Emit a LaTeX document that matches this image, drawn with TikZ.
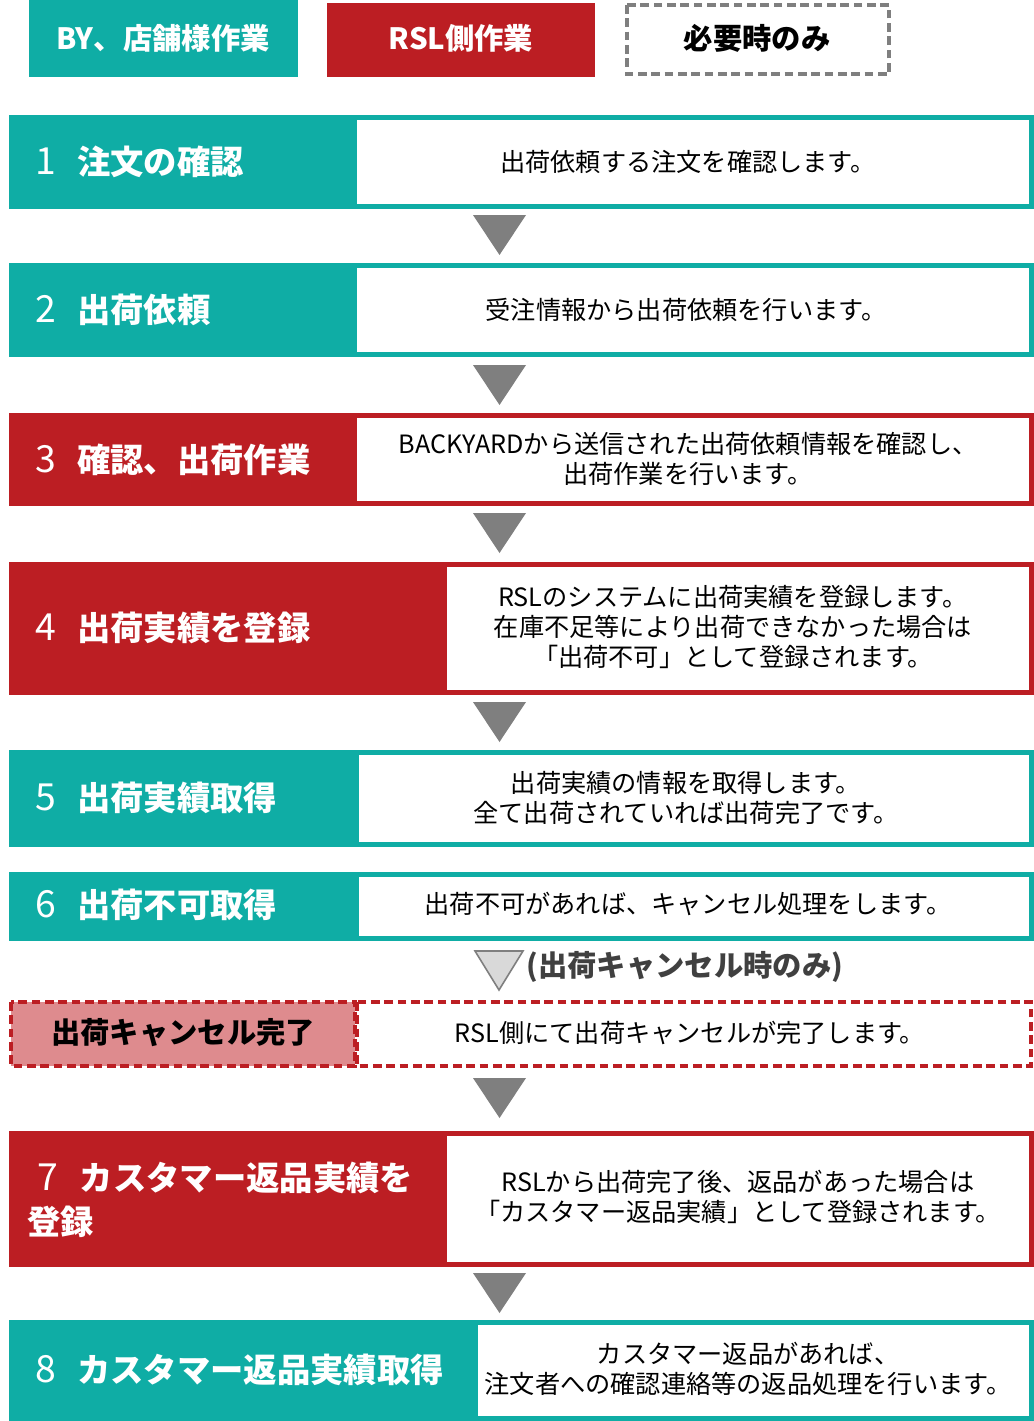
\documentclass[tikz,border=0pt]{standalone}
\usepackage{fontspec}
\setmainfont{Noto Sans CJK JP}
\usepackage{tikz}
\definecolor{byteal}{HTML}{0FADA5}
\definecolor{rslred}{HTML}{BC1E23}
\definecolor{cancelpink}{HTML}{DE8B8E}
\definecolor{arrowgray}{HTML}{7F7F7F}
\definecolor{notegray}{HTML}{404040}
\tikzset{x=0.75pt,y=-0.75pt}
\tikzset{
  steptitle/.style={anchor=west,text=white,inner sep=0pt,align=left,
    font=\fontsize{25pt}{33pt}\selectfont\bfseries},
  stepdesc/.style={inner sep=0pt,align=center,
    font=\fontsize{18.9pt}{22.5pt}\selectfont},
  legendtext/.style={inner sep=0pt,font=\fontsize{22pt}{25pt}\selectfont\bfseries},
  dashframe/.style={rslred,line width=3.5pt,dash pattern=on 6.5pt off 3.5pt},
}
\newcommand{\stepnum}[1]{{\fontsize{28pt}{30pt}\selectfont\mdseries #1}\hspace{16pt}}

\begin{document}
\begin{tikzpicture}
       \useasboundingbox (0,0) rectangle (1034,1421);
       % legend
       \fill[byteal] (29,0) rectangle (298,77);
       \fill[rslred] (327,3) rectangle (595,77);
       \draw[arrowgray,line width=3.5pt,dash pattern=on 6.5pt off 3.5pt] (627,5) rectangle (889,74);
       \node[legendtext,text=white] (lgby) at (163,38) {BY、店舗様作業};
       \node[legendtext,text=white] (lgrsl) at (461,38) {RSL側作業};
       \node[legendtext] (lgopt) at (757,38) {必要時のみ};
       % step frames
       \foreach \top/\bot/\split/\col in {115/209/357/byteal,263/357/357/byteal,413/506/357/rslred,
           562/695/447/rslred,750/847/359/byteal,872/941/359/byteal,1131/1267/447/rslred,1320/1421/478/byteal}
       {
         \fill[\col] (9,\top) rectangle (1034,\bot);
         \fill[white] (\split,\top+5) rectangle (1029,\bot-5);
       }
       % arrows
       \foreach \y in {215,365,513,702,1078,1273}
         \fill[arrowgray] (473,\y) -- (526,\y) -- (499.5,\y+40) -- cycle;
       \draw[arrowgray,fill=black!15,line width=1.2pt] (475,951) -- (523,951) -- (499,990) -- cycle;
       \node[anchor=west,inner sep=0pt,text=notegray,font=\fontsize{22pt}{24pt}\selectfont\bfseries]
         (note) at (526,967) {(出荷キャンセル時のみ)};
       % cancel row
       \fill[cancelpink] (11,1002) rectangle (355,1066);
       \draw[dashframe] (11,1002) rectangle (355,1066);
       \draw[dashframe] (357,1002) rectangle (1031,1066);
       \node[legendtext] (t9) at (183,1033) {出荷キャンセル完了};
       \node[stepdesc] (d9) at (690,1033) {RSL側にて出荷キャンセルが完了します。};
       % titles
       \node[steptitle] (t1) at (35,162) {\stepnum{1}注文の確認};
       \node[steptitle] (t2) at (35,310) {\stepnum{2}出荷依頼};
       \node[steptitle] (t3) at (35,460) {\stepnum{3}確認、出荷作業};
       \node[steptitle] (t4) at (35,628) {\stepnum{4}出荷実績を登録};
       \node[steptitle] (t5) at (35,798) {\stepnum{5}出荷実績取得};
       \node[steptitle] (t6) at (35,905) {\stepnum{6}出荷不可取得};
       \node[steptitle] (t7) at (27,1200) {\hspace*{8pt}\stepnum{7}カスタマー返品実績を\\登録};
       \node[steptitle] (t8) at (35,1370) {\stepnum{8}カスタマー返品実績取得};
       % descriptions
       \node[stepdesc] (d1) at (688,162) {出荷依頼する注文を確認します。};
       \node[stepdesc] (d2) at (686,310) {受注情報から出荷依頼を行います。};
       \node[stepdesc] (d3) at (688,459) {BACKYARDから送信された出荷依頼情報を確認し、\\出荷作業を行います。};
       \node[stepdesc] (d4) at (733,627) {RSLのシステムに出荷実績を登録します。\\在庫不足等により出荷できなかった場合は\\「出荷不可」として登録されます。};
       \node[stepdesc] (d5) at (686,798) {出荷実績の情報を取得します。\\全て出荷されていれば出荷完了です。};
       \node[stepdesc] (d6) at (688,904) {出荷不可があれば、キャンセル処理をします。};
       \node[stepdesc] (d7) at (738,1197) {RSLから出荷完了後、返品があった場合は\\「カスタマー返品実績」として登録されます。};
       \node[stepdesc] (d8) at (748,1369) {カスタマー返品があれば、\\注文者への確認連絡等の返品処理を行います。};
      \end{tikzpicture}
\end{document}
